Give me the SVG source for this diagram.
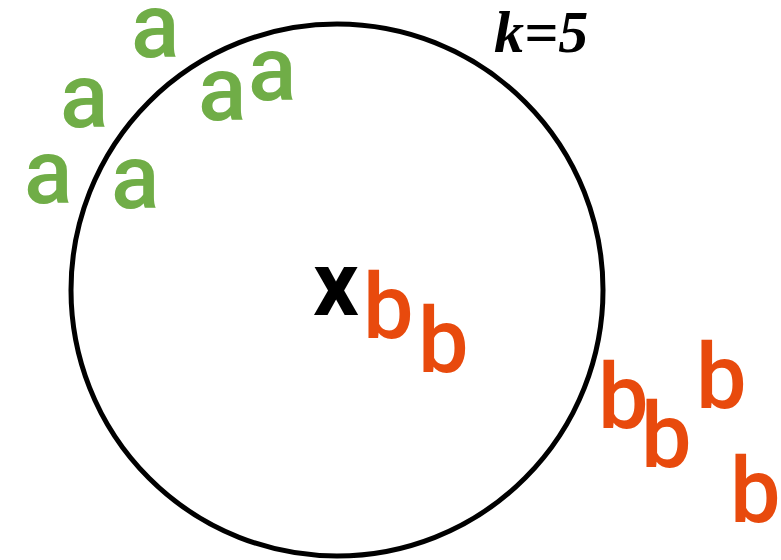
<svg xmlns="http://www.w3.org/2000/svg" width="781" height="560" viewBox="0 0 781 560">
<style>
.a{font-family:Roboto,"Liberation Sans",sans-serif;font-size:90px;font-weight:500;fill:#70AD47}
.b{font-family:Roboto,"Liberation Sans",sans-serif;font-size:90px;font-weight:500;fill:#E84A0D}
.x{font-family:Roboto,"Liberation Sans",sans-serif;font-size:90px;font-weight:bold;fill:#000}
.k{font-family:"Liberation Serif",serif;font-size:60px;font-weight:bold;font-style:italic;fill:#000}
</style>
<rect width="781" height="560" fill="#fff"/>
<g id="circle"><circle cx="337" cy="290" r="266" fill="none" stroke="#000" stroke-width="5"/></g>
<g id="connectors"></g>
<g id="label-k"><text class="k" x="494" y="52">k=5</text></g>
<g id="query"><text class="x" x="313" y="315">x</text></g>
<g id="class-a">
<text class="a" x="131" y="57">a</text>
<text class="a" x="60" y="127">a</text>
<text class="a" x="198" y="120">a</text>
<text class="a" x="248" y="100">a</text>
<text class="a" x="24" y="203">a</text>
<text class="a" x="111" y="208">a</text>
</g>
<g id="class-b">
<text class="b" x="363" y="338">b</text>
<text class="b" x="418" y="372">b</text>
<text class="b" x="598" y="428">b</text>
<text class="b" x="641" y="467">b</text>
<text class="b" x="696" y="408">b</text>
<text class="b" x="730" y="522">b</text>
</g>
</svg>
